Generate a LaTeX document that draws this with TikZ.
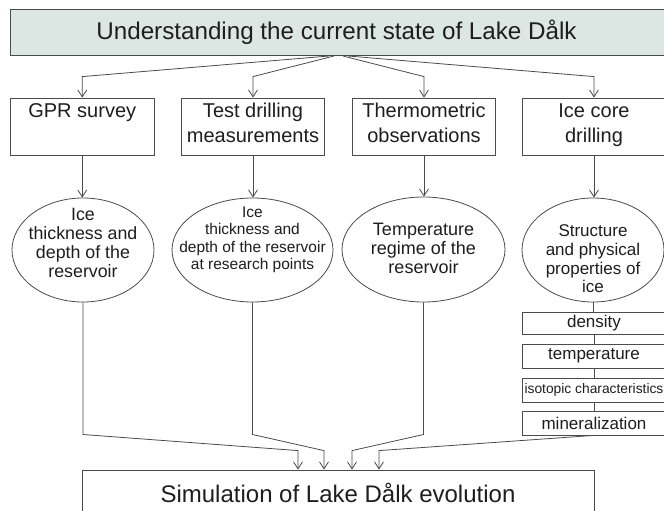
\documentclass[tikz,border=0pt]{standalone}
\usepackage{fontspec}
\setmainfont{Liberation Sans}
\usetikzlibrary{arrows.meta,shapes.geometric}
\definecolor{linec}{RGB}{75,75,75}
\definecolor{textc}{RGB}{30,30,30}
\definecolor{topfill}{RGB}{220,230,226}
\newcommand\bxs{\rule[-9pt]{0pt}{25pt}}
\newcommand\els{\rule[-5pt]{0pt}{18pt}}
\tikzset{
  conn/.style={draw=linec, line width=0.8pt},
  arr/.style={conn, -{Straight Barb[length=7pt,width=9pt,line width=0.8pt]}},
  topbox/.style={draw=linec, line width=1pt, fill=topfill, rectangle, inner sep=0pt,
    text=textc, font=\fontsize{24.2}{28}\selectfont},
  boxnode/.style={draw=linec, line width=0.8pt, rectangle, inner sep=0pt,
    minimum width=143.5pt, minimum height=57pt, align=center, text=textc,
    font=\fontsize{20}{25}\selectfont},
  ellnode/.style={draw=linec, line width=0.8pt, ellipse, inner sep=0pt},
  elltext/.style={align=center, inner sep=0pt, text=textc},
  smallbox/.style={draw=linec, line width=0.8pt, rectangle, inner sep=0pt,
    minimum width=144pt, text=textc, font=\fontsize{17}{20}\selectfont},
  simbox/.style={draw=linec, line width=0.8pt, rectangle, inner sep=0pt,
    minimum width=512pt, minimum height=46pt, text=textc,
    font=\fontsize{24}{28}\selectfont},
}
\begin{document}
\begin{tikzpicture}[x=1pt,y=-1pt]
\useasboundingbox (0,0) rectangle (664,511);
\clip (0,0) rectangle (664,511);
\fill[white] (0,0) rectangle (664,511);

% title
\node[topbox, minimum width=659.5pt, minimum height=46pt] (top) at (340.25,32.5)
  {\hspace*{-7.5pt}Understanding the current state of Lake Dålk};

% method boxes
\node[boxnode] (b1) at (82.25,126.5) {\bxs GPR survey\\\bxs};
\node[boxnode] (b2) at (253,126.5) {\bxs Test drilling\\measurements\bxs};
\node[boxnode] (b3) at (424,126.5) {\bxs Thermometric\\observations\bxs};
\node[boxnode, minimum width=144pt] (b4) at (594,126.5) {\bxs Ice core\\drilling\bxs};

% ellipses
\node[ellnode, minimum width=142pt, minimum height=104pt] (e1) at (83,250) {};
\node[ellnode, minimum width=161pt, minimum height=104pt] (e2) at (252.5,250) {};
\node[ellnode, minimum width=163pt, minimum height=105pt] (e3) at (423.5,249.5) {};
\node[ellnode, minimum width=142pt, minimum height=104pt] (e4) at (593,250) {};

\node[elltext, font=\fontsize{17.8}{19}\selectfont] (t1) at (83,244.5)
  {\els Ice\\thickness and\\depth of the\\reservoir\els};
\node[elltext, font=\fontsize{15.5}{17.5}\selectfont] (t2) at (252.5,239.5)
  {\els Ice\\thickness and\\depth of the reservoir\\at research points\els};
\node[elltext, font=\fontsize{18}{18.9}\selectfont] (t3) at (423.5,250.4)
  {\els Temperature\\regime of the\\reservoir\els};
\node[elltext, font=\fontsize{17}{18.6}\selectfont] (t4) at (593,260.8)
  {\els Structure\\and physical\\properties of\\ice\els};

% small boxes
\node[smallbox, minimum height=22pt] (d1) at (594,323) {density};
\node[smallbox, minimum height=24pt] (d2) at (594,356) {temperature};
\node[smallbox, minimum height=24pt, font=\fontsize{13.8}{16}\selectfont] (d3) at (594,390) {isotopic characteristics};
\node[smallbox, minimum height=24pt] (d4) at (594,423) {mineralization};

% simulation box
\node[simbox] (sim) at (338,493) {Simulation of Lake Dålk evolution};

% top fan
\draw[arr] ([xshift=-11.25pt]top.south) -- ([yshift=21pt]b1.north) -- (b1.north);
\draw[arr] ([xshift=-6.25pt]top.south) -- ([yshift=21pt]b2.north) -- (b2.north);
\draw[arr] ([xshift=2.75pt]top.south) -- ([yshift=21pt]b3.north) -- (b3.north);
\draw[arr] ([xshift=7.75pt]top.south) -- ([yshift=21pt]b4.north) -- (b4.north);

% boxes to ellipses
\draw[arr] (b1.south) -- (b1.south |- e1.north);
\draw[arr] (b2.south) -- (b2.south |- e2.north);
\draw[arr] (b3.south) -- (b3.south |- e3.north);
\draw[arr] (b4.south) -- (b4.south |- e4.north);

% ice chain
\draw[conn] (e4.south) -- (e4.south |- d1.north);
\draw[conn] (d1.south) -- (d2.north);
\draw[conn] (d2.south) -- (d3.north);
\draw[conn] (d3.south) -- (d4.north);

% to simulation
\coordinate (j) at (0,434.5);
\draw[arr] (e1.south) -- (e1.south |- j) -- ([xshift=-40pt,yshift=19pt]sim.north) -- ([xshift=-40pt]sim.north);
\draw[arr] (e2.south) -- (e2.south |- j) -- ([xshift=-14pt,yshift=19pt]sim.north) -- ([xshift=-14pt]sim.north);
\draw[arr] (e3.south) -- (e3.south |- j) -- ([xshift=14pt,yshift=19pt]sim.north) -- ([xshift=14pt]sim.north);
\draw[arr] (d4.south) -- ([xshift=41pt,yshift=19pt]sim.north) -- ([xshift=41pt]sim.north);
\end{tikzpicture}
\end{document}
